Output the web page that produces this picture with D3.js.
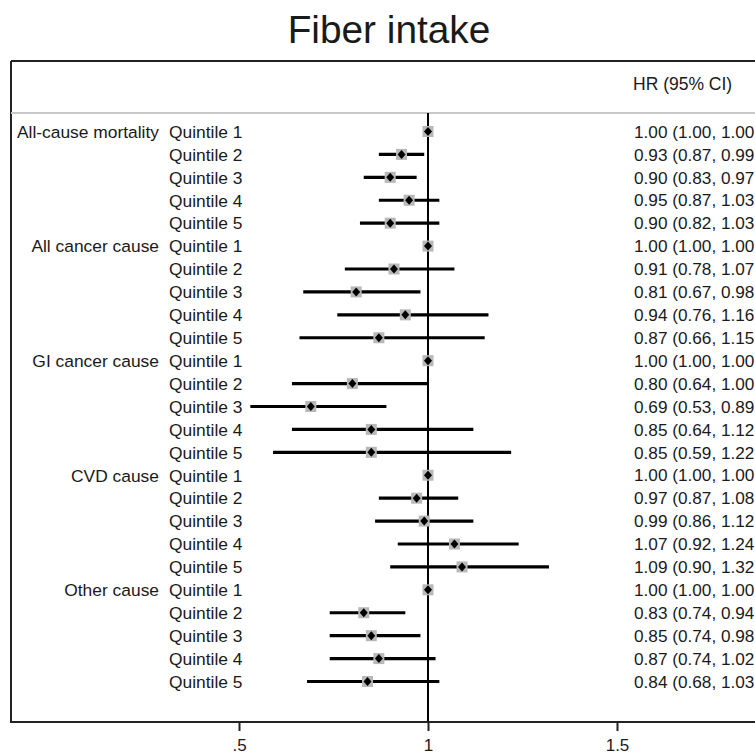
<!DOCTYPE html>
<html>
<head>
<meta charset="utf-8">
<script src="https://cdn.jsdelivr.net/npm/d3@7"></script>
<style>
  body { margin: 0; background: #fff; }
  svg text { font-family: "Liberation Sans", Arial, sans-serif; fill: #1a1a1a; }
</style>
</head>
<body>
<div id="chart"></div>
<script>
// cause groups and quintile labels
var groups = ["All-cause mortality", "All cancer cause", "GI cancer cause", "CVD cause", "Other cause"];
var quintiles = ["Quintile 1", "Quintile 2", "Quintile 3", "Quintile 4", "Quintile 5"];

// hazard ratios and 95% CI, one entry per group x quintile (row order)
var hr = [1.00, 0.93, 0.90, 0.95, 0.90,
          1.00, 0.91, 0.81, 0.94, 0.87,
          1.00, 0.80, 0.69, 0.85, 0.85,
          1.00, 0.97, 0.99, 1.07, 1.09,
          1.00, 0.83, 0.85, 0.87, 0.84];
var lower = [1.00, 0.87, 0.83, 0.87, 0.82,
             1.00, 0.78, 0.67, 0.76, 0.66,
             1.00, 0.64, 0.53, 0.64, 0.59,
             1.00, 0.87, 0.86, 0.92, 0.90,
             1.00, 0.74, 0.74, 0.74, 0.68];
var upper = [1.00, 0.99, 0.97, 1.03, 1.03,
             1.00, 1.07, 0.98, 1.16, 1.15,
             1.00, 1.00, 0.89, 1.12, 1.22,
             1.00, 1.08, 1.12, 1.24, 1.32,
             1.00, 0.94, 0.98, 1.02, 1.03];

var xTicks = [0.5, 1, 1.5];
var xTickLabels = [".5", "1", "1.5"];

var W = 755, H = 755;
var boxLeft = 11, boxTop = 61, headerLine = 113, axisY = 722;

var rows = [];
groups.forEach(function (g, gi) {
  quintiles.forEach(function (q, qi) {
    var i = gi * quintiles.length + qi;
    rows.push({ group: qi == 0 ? g : "", quintile: q, hr: hr[i], lo: lower[i], hi: upper[i], idx: i });
  });
});

var svg = d3.select("#chart").append("svg")
  .attr("width", W)
  .attr("height", H);

var x = d3.scaleLinear().domain([0.5, 1.5]).range([239, 617]);
var y = d3.scalePoint().domain(d3.range(rows.length)).range([131.5, 681.5]);

// title
svg.append("text")
  .attr("x", 389)
  .attr("y", 43)
  .attr("text-anchor", "middle")
  .style("font-size", "38.8px")
  .text("Fiber intake");

// frame
svg.append("line")
  .attr("x1", boxLeft).attr("x2", W)
  .attr("y1", boxTop).attr("y2", boxTop)
  .attr("stroke", "#222").attr("stroke-width", 2);
svg.append("line")
  .attr("x1", boxLeft).attr("x2", boxLeft)
  .attr("y1", boxTop).attr("y2", axisY)
  .attr("stroke", "#222").attr("stroke-width", 2);
svg.append("line")
  .attr("x1", boxLeft).attr("x2", W)
  .attr("y1", headerLine).attr("y2", headerLine)
  .attr("stroke", "#c8c8c8").attr("stroke-width", 2);

svg.append("text")
  .attr("x", 633)
  .attr("y", 90)
  .style("font-size", "17.5px")
  .text("HR (95% CI)");

// null line at HR = 1
svg.append("line")
  .attr("x1", x(1)).attr("x2", x(1))
  .attr("y1", headerLine).attr("y2", axisY)
  .attr("stroke", "#000").attr("stroke-width", 2);

var row = svg.selectAll(".row")
  .data(rows)
  .enter()
  .append("g")
  .attr("class", "row")
  .attr("transform", function (d) { return "translate(0," + y(d.idx) + ")"; });

row.append("text")
  .attr("x", 159)
  .attr("dy", "0.36em")
  .attr("text-anchor", "end")
  .style("font-size", "17.4px")
  .text(function (d) { return d.group; });

row.append("text")
  .attr("x", 169)
  .attr("dy", "0.36em")
  .style("font-size", "17.4px")
  .text(function (d) { return d.quintile; });

// the picture cuts the closing bracket off at its right edge
row.append("text")
  .attr("x", 634)
  .attr("dy", "0.36em")
  .style("font-size", "17.2px")
  .text(function (d) {
    return d.hr.toFixed(2) + " (" + d.lo.toFixed(2) + ", " + d.hi.toFixed(2);
  });

// CI lines
row.append("line")
  .attr("x1", function (d) { return x(d.lo); })
  .attr("x2", function (d) { return x(d.hi); })
  .attr("y1", 0).attr("y2", 0)
  .attr("stroke", "#000")
  .attr("stroke-width", 3.2);

// weight boxes
row.append("rect")
  .attr("x", function (d) { return x(d.hr) - 5.5; })
  .attr("y", -5.5)
  .attr("width", 11)
  .attr("height", 11)
  .attr("fill", "#b8b8b8");

// point estimate diamonds
row.append("path")
  .attr("d", function (d) {
    var cx = x(d.hr);
    return "M" + (cx - 4) + ",0L" + cx + ",-4.5L" + (cx + 4) + ",0L" + cx + ",4.5Z";
  })
  .attr("fill", "#000");

// x axis
svg.append("line")
  .attr("x1", 10).attr("x2", W)
  .attr("y1", axisY).attr("y2", axisY)
  .attr("stroke", "#222").attr("stroke-width", 2);

var axis = svg.append("g")
  .attr("transform", "translate(0," + axisY + ")")
  .call(d3.axisBottom(x)
    .tickValues(xTicks)
    .tickSize(9)
    .tickPadding(8)
    .tickFormat(function (d, i) { return xTickLabels[i]; }));

axis.select(".domain").remove();
axis.selectAll(".tick line").attr("stroke", "#222").attr("stroke-width", 2);
axis.selectAll(".tick text")
  .style("font-size", "17px")
  .style("font-family", "'Liberation Sans', Arial, sans-serif")
  .attr("fill", "#1a1a1a");
</script>
</body>
</html>
